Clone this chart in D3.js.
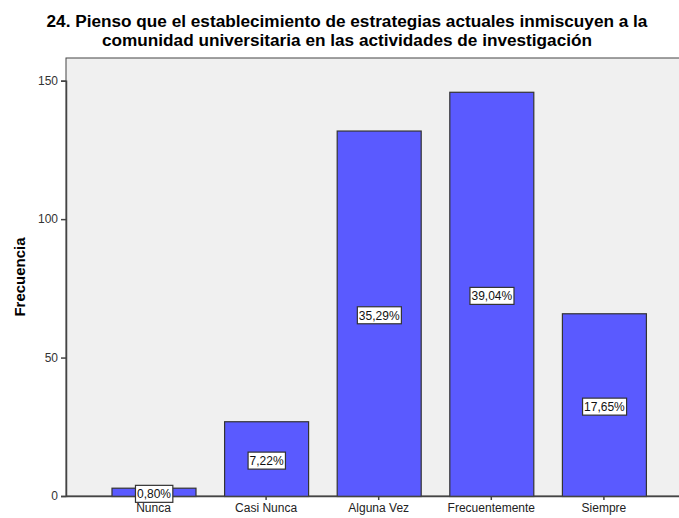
<!DOCTYPE html>
<html><head><meta charset="utf-8">
<script src="https://cdn.jsdelivr.net/npm/d3@7"></script>
<style>body{margin:0;background:#fff}svg{display:block}text{font-family:"Liberation Sans",Arial,sans-serif}</style>
</head><body>
<svg id="c" width="679" height="518"></svg>
<script>
const titleLines = ["24. Pienso que el establecimiento de estrategias actuales inmiscuyen a la", "comunidad universitaria en las actividades de investigación"];
const categories = ["Nunca", "Casi Nunca", "Alguna Vez", "Frecuentemente", "Siempre"];
const values = [3, 27, 132, 146, 66];
const percentLabels = ["0,80%", "7,22%", "35,29%", "39,04%", "17,65%"];
const yTicks = [0, 50, 100, 150];
const yLabel = "Frecuencia";

const svg = d3.select("#c");
const pLeft = 66, pTop = 58, pBottom = 496, pRight = 691.4;

svg.append("rect").attr("x", pLeft).attr("y", pTop).attr("width", 700 - pLeft).attr("height", pBottom - pTop)
  .attr("fill", "#f0f0f0").attr("stroke", "#444").attr("stroke-width", 1);

const y = d3.scaleLinear().domain([0, 150]).range([pBottom, 80.7]);
const x = d3.scaleBand().domain(categories).range([pLeft, pRight]).paddingInner(0.254).paddingOuter(0.404);

// bars
svg.selectAll("rect.bar").data(values).enter().append("rect").attr("class", "bar")
  .attr("x", (d, i) => x(categories[i]) + 0.5)
  .attr("y", d => y(d) + 0.5)
  .attr("width", x.bandwidth())
  .attr("height", d => pBottom - y(d))
  .attr("fill", "#5a5aff").attr("stroke", "#333").attr("stroke-width", 1.2);

// axes
const ya = svg.append("g").attr("transform", `translate(${pLeft},0)`)
  .call(d3.axisLeft(y).tickValues(yTicks).tickSize(5).tickPadding(3));
ya.select(".domain").attr("stroke", "#444").attr("stroke-width", 1.5);
ya.selectAll(".tick line").attr("stroke", "#444").attr("stroke-width", 1.5);
ya.selectAll("text").attr("font-size", 12).attr("fill", "#333").style("font-family", "Liberation Sans, Arial");

const xa = svg.append("g").attr("transform", `translate(0,${pBottom})`)
  .call(d3.axisBottom(x).tickSize(4).tickPadding(3).tickSizeOuter(0));
xa.select(".domain").attr("stroke", "#444").attr("stroke-width", 1.5);
xa.selectAll(".tick line").attr("stroke", "#444").attr("stroke-width", 1.5);
xa.selectAll("text").attr("font-size", 12).attr("fill", "#222").style("font-family", "Liberation Sans, Arial");

// percent labels
const lab = svg.selectAll("g.lab").data(values).enter().append("g").attr("class", "lab")
  .attr("transform", (d, i) => `translate(${x(categories[i]) + x.bandwidth() / 2 + 0.5},${(y(d) + pBottom) / 2 + 2})`);
lab.append("text").text((d, i) => percentLabels[i]).attr("text-anchor", "middle").attr("dy", "0.36em")
  .attr("font-size", 12).attr("fill", "#111");
lab.each(function () {
  const g = d3.select(this);
  const bb = g.select("text").node().getBBox();
  g.insert("rect", "text").attr("x", bb.x - 1.5).attr("y", -8.5).attr("width", bb.width + 3).attr("height", 17)
    .attr("fill", "#fff").attr("stroke", "#333").attr("stroke-width", 1.2);
});

// title
svg.append("g").selectAll("text").data(titleLines).enter().append("text")
  .attr("x", 347).attr("y", (d, i) => 27 + i * 18.5).attr("text-anchor", "middle")
  .attr("font-size", 17.2).attr("font-weight", "bold").attr("fill", "#000").text(d => d);

svg.append("text").attr("transform", `translate(25,${(pTop + pBottom) / 2}) rotate(-90)`)
  .attr("text-anchor", "middle").attr("font-size", 15).attr("font-weight", "bold").text(yLabel);
</script>
</body></html>
